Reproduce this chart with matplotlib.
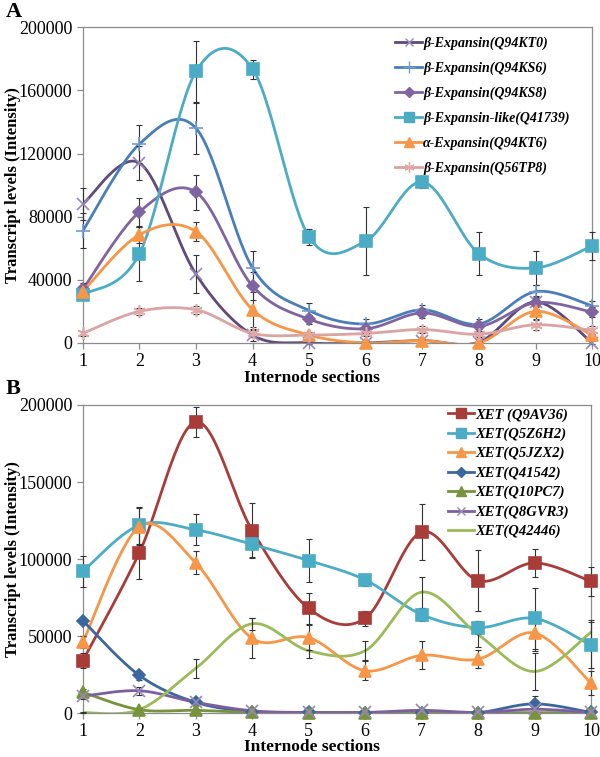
import numpy as np
import matplotlib
matplotlib.use("Agg")
import matplotlib.pyplot as plt

plt.rcParams["font.family"] = ["Liberation Serif", "DejaVu Serif"]

sections = list(range(1, 11))

# Panel A: expansins
a_names = [
    "β-Expansin(Q94KT0)",
    "β-Expansin(Q94KS6)",
    "β-Expansin(Q94KS8)",
    "β-Expansin-like(Q41739)",
    "α-Expansin(Q94KT6)",
    "β-Expansin(Q56TP8)",
]
a_kt0 = [88000, 114000, 43500, 5000, 0, 0, 1500, 500, 26000, 0]
a_kt0_err = [10000, 11000, 12000, 4000, 1000, 1000, 1000, 1000, 3000, 1000]
a_ks6 = [71000, 126000, 136000, 47500, 20500, 12000, 21000, 12000, 32500, 23500]
a_ks6_err = [11000, 12000, 16000, 10500, 5000, 3000, 3000, 3000, 4000, 3000]
a_ks8 = [34000, 83000, 95500, 36000, 15000, 9000, 19000, 10500, 25500, 19500]
a_ks8_err = [4000, 9000, 11000, 9000, 3000, 3000, 3000, 3000, 4000, 3000]
a_q41739 = [30500, 56500, 172000, 173500, 67000, 64500, 102000, 56500, 47500, 61500]
a_q41739_err = [3000, 17000, 19500, 6000, 5000, 21500, 4000, 13500, 11000, 9000]
a_kt6 = [32500, 68500, 70500, 21000, 5000, 0, 1500, 0, 20000, 5000]
a_kt6_err = [3000, 5000, 6000, 11000, 2000, 500, 500, 500, 5000, 2000]
a_tp8 = [6000, 20000, 21000, 6000, 5000, 6000, 8500, 5500, 11500, 8000]
a_tp8_err = [1500, 2000, 2500, 2000, 1500, 1500, 2000, 1500, 3000, 2500]

# Panel B: XETs
b_names = [
    "XET (Q9AV36)",
    "XET(Q5Z6H2)",
    "XET(Q5JZX2)",
    "XET(Q41542)",
    "XET(Q10PC7)",
    "XET(Q8GVR3)",
    "XET(Q42446)",
]
b_q9av36 = [34000, 104000, 189000, 118500, 68000, 61500, 117500, 86000, 97500, 85500]
b_q9av36_err = [5000, 17000, 10000, 18000, 10000, 5000, 18000, 20000, 9000, 9500]
b_q5z6h2 = [92000, 122000, 119000, 109500, 99000, 86500, 64000, 55500, 61500, 44000]
b_q5z6h2_err = [10000, 12000, 10000, 8000, 14000, 4000, 4000, 4000, 20000, 15000]
b_q5jzx2 = [46000, 121000, 97500, 48500, 49000, 27500, 37500, 35000, 52000, 19500]
b_q5jzx2_err = [4000, 12000, 7500, 13000, 8000, 6000, 9000, 6000, 12000, 8000]
b_q41542 = [60000, 24500, 7000, 1000, 500, 300, 300, 300, 6000, 400]
b_q41542_err = [2000, 3000, 2000, 1000, 500, 300, 300, 300, 5000, 400]
b_q10pc7 = [13500, 2200, 1800, 400, 300, 300, 300, 300, 300, 300]
b_q10pc7_err = [2000, 1000, 1000, 400, 300, 300, 300, 300, 300, 300]
b_q8gvr3 = [11000, 14500, 7000, 1500, 400, 400, 1800, 400, 2500, 400]
b_q8gvr3_err = [2000, 2500, 2000, 1000, 400, 400, 1000, 400, 1500, 400]
b_q42446 = [300, 2200, 29000, 58000, 40500, 40500, 78500, 51000, 27000, 52500]
b_q42446_err = [300, 1000, 6000, 4000, 5000, 6000, 10000, 8000, 12000, 8000]


def smooth(x, y, n=30):
    """Excel-like smoothed line (Catmull-Rom turned into cubic Bezier)."""
    x = np.asarray(x, float)
    y = np.asarray(y, float)
    px = np.concatenate([[x[0]], x, [x[-1]]])
    py = np.concatenate([[y[0]], y, [y[-1]]])
    t = np.linspace(0, 1, n)[:, None]
    xs, ys = [], []
    for i in range(len(x) - 1):
        p0 = np.array([px[i + 1], py[i + 1]])
        p3 = np.array([px[i + 2], py[i + 2]])
        c1 = p0 + (p3 - np.array([px[i], py[i]])) / 6
        c2 = p3 - (np.array([px[i + 3], py[i + 3]]) - p0) / 6
        pts = ((1 - t) ** 3) * p0 + 3 * ((1 - t) ** 2) * t * c1 \
            + 3 * (1 - t) * t ** 2 * c2 + t ** 3 * p3
        xs.append(pts[:, 0])
        ys.append(pts[:, 1])
    return np.concatenate(xs), np.concatenate(ys)


def draw_series(ax, y, err, color, marker, mcolor, ms, label):
    sx, sy = smooth(sections, y)
    ax.plot(sx, sy, color=color, lw=2.0, zorder=2)
    ax.errorbar(sections, y, yerr=err, fmt="none", ecolor="#333333",
                elinewidth=0.8, capsize=2.5, capthick=0.8, zorder=3,
                clip_on=False)
    ax.plot(sections, y, ls="none", marker=marker, ms=ms, color=mcolor,
            mec=mcolor, mew=1.2, zorder=4, clip_on=False)
    # legend proxy
    ax.plot([], [], color=color, lw=2.0, marker=marker, ms=ms * 0.8,
            mfc=mcolor, mec=mcolor, mew=1.0, label=label)


def style_axes(ax, yticks):
    ax.set_xlim(1, 10)
    ax.set_ylim(0, 200000)
    ax.set_xticks(sections)
    ax.set_yticks(yticks)
    ax.set_yticklabels([str(v) for v in yticks])
    for s in ax.spines.values():
        s.set_color("#8c8c8c")
        s.set_linewidth(0.9)
    ax.tick_params(axis="both", colors="#8c8c8c", labelcolor="black",
                   labelsize=13, length=4, width=0.9, direction="out")
    ax.tick_params(axis="x", pad=3)
    ax.set_ylabel("Transcript levels (Intensity)", fontsize=12,
                  fontweight="bold")
    ax.yaxis.set_label_coords(-0.122, 0.5)
    ax.set_xlabel("Internode sections", fontsize=12.5, fontweight="bold",
                  labelpad=0)
    ax.xaxis.set_label_coords(0.45, -0.085)


fig = plt.figure(figsize=(6.0, 7.57), dpi=100)
ax_a = fig.add_axes([0.138, 0.547, 0.849, 0.417])
ax_b = fig.add_axes([0.138, 0.058, 0.847, 0.407])

draw_series(ax_a, a_kt0, a_kt0_err, "#604A7B", "x", "#9A86B8", 8, a_names[0])
draw_series(ax_a, a_ks6, a_ks6_err, "#4A7EBB", "+", "#6E9BD6", 10, a_names[1])
draw_series(ax_a, a_ks8, a_ks8_err, "#8064A2", "D", "#8064A2", 6, a_names[2])
draw_series(ax_a, a_q41739, a_q41739_err, "#4BACC6", "s", "#4BACC6", 9, a_names[3])
draw_series(ax_a, a_kt6, a_kt6_err, "#F79646", "^", "#F79646", 9, a_names[4])
draw_series(ax_a, a_tp8, a_tp8_err, "#DBA3A1", (6, 2, 0), "#E0A9A7", 9, a_names[5])

draw_series(ax_b, b_q9av36, b_q9av36_err, "#A93C39", "s", "#A93C39", 9, b_names[0])
draw_series(ax_b, b_q5z6h2, b_q5z6h2_err, "#4BACC6", "s", "#4BACC6", 9, b_names[1])
draw_series(ax_b, b_q5jzx2, b_q5jzx2_err, "#F79646", "^", "#F79646", 9, b_names[2])
draw_series(ax_b, b_q41542, b_q41542_err, "#3B67A0", "D", "#3B67A0", 6, b_names[3])
draw_series(ax_b, b_q10pc7, b_q10pc7_err, "#77933C", "^", "#77933C", 9, b_names[4])
draw_series(ax_b, b_q8gvr3, b_q8gvr3_err, "#7D5FA0", "x", "#9A86B8", 8, b_names[5])
draw_series(ax_b, b_q42446, b_q42446_err, "#9BBB59", "None", "#9BBB59", 6, b_names[6])

style_axes(ax_a, [0, 40000, 80000, 120000, 160000, 200000])
style_axes(ax_b, [0, 50000, 100000, 150000, 200000])

font_a = {"family": ["Liberation Serif", "DejaVu Serif"], "weight": "bold",
          "style": "italic", "size": 10}
font_b = dict(font_a, size=10.5)
ax_a.legend(loc="upper left", bbox_to_anchor=(0.613, 0.972), frameon=False,
            prop=font_a, handlelength=1.95, handletextpad=0.08,
            labelspacing=0.84, borderpad=0, borderaxespad=0)
ax_b.legend(loc="upper left", bbox_to_anchor=(0.718, 0.99), frameon=False,
            prop=font_b, handlelength=1.8, handletextpad=0.08,
            labelspacing=0.41, borderpad=0, borderaxespad=0)

fig.text(0.01, 0.997, "A", fontsize=16, fontweight="bold", va="top")
fig.text(0.01, 0.5, "B", fontsize=16, fontweight="bold", va="top")

fig.savefig("out.png", dpi=100)
